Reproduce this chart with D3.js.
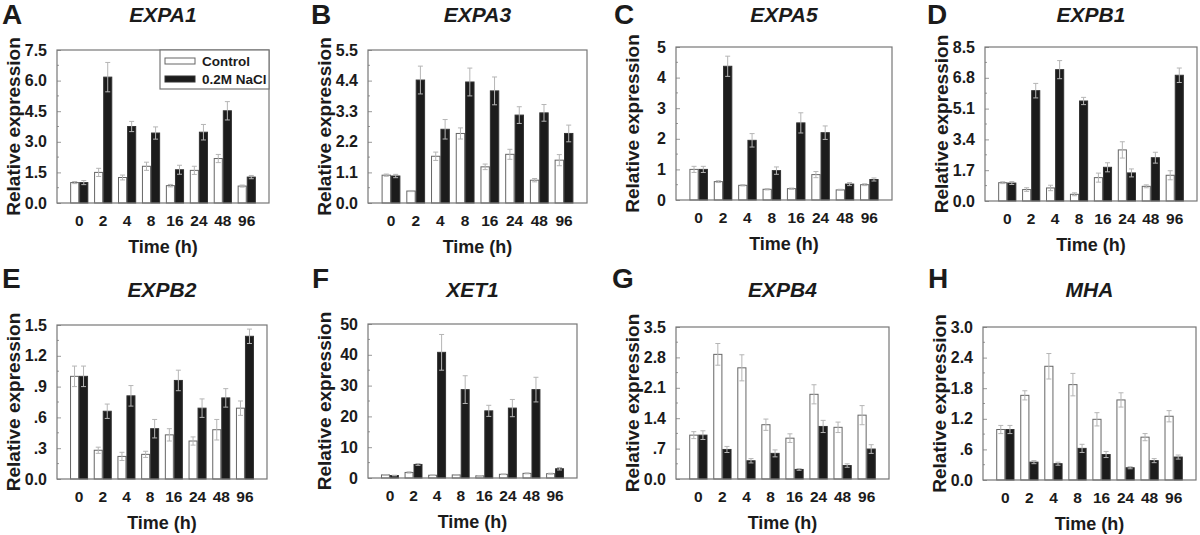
<!DOCTYPE html>
<html><head><meta charset="utf-8">
<script src="https://cdn.jsdelivr.net/npm/d3@7"></script>
<style>
body{margin:0;background:#fff;}
svg text{font-family:"Liberation Sans",Arial,sans-serif;font-weight:bold;fill:#1b1b1b;}
</style></head>
<body><svg id="c" width="1200" height="535"></svg>
<script>
const times = ["0","2","4","8","16","24","48","96"];
const seriesNames = ["Control","0.2M NaCl"];

const expa1Control = [1.0,1.5,1.25,1.8,0.85,1.6,2.18,0.83];
const expa1ControlErr = [0.05,0.2,0.12,0.2,0.06,0.2,0.2,0.05];
const expa1NaCl = [1.0,6.17,3.75,3.43,1.63,3.47,4.52,1.27];
const expa1NaClErr = [0.1,0.72,0.25,0.3,0.22,0.38,0.45,0.08];
const expa1Ticks = [0,1.5,3.0,4.5,6.0,7.5];
const expa1TickLabels = ["0.0","1.5","3.0","4.5","6.0","7.5"];

const expa3Control = [1.0,0.43,1.68,2.5,1.3,1.75,0.82,1.54];
const expa3ControlErr = [0.04,0.02,0.15,0.2,0.1,0.18,0.06,0.2];
const expa3NaCl = [0.97,4.42,2.65,4.35,4.03,3.16,3.24,2.5];
const expa3NaClErr = [0.06,0.5,0.35,0.5,0.5,0.3,0.3,0.3];
const expa3Ticks = [0,1.1,2.2,3.3,4.4,5.5];
const expa3TickLabels = ["0.0","1.1","2.2","3.3","4.4","5.5"];

const expa5Control = [1.0,0.6,0.48,0.35,0.37,0.83,0.33,0.5];
const expa5ControlErr = [0.1,0.03,0.02,0.02,0.02,0.1,0.02,0.03];
const expa5NaCl = [1.0,4.37,1.95,0.96,2.52,2.2,0.52,0.67];
const expa5NaClErr = [0.1,0.33,0.22,0.12,0.33,0.22,0.05,0.05];
const expa5Ticks = [0,1,2,3,4,5];
const expa5TickLabels = ["0","1","2","3","4","5"];

const expb1Control = [1.01,0.63,0.72,0.37,1.29,2.82,0.81,1.42];
const expb1ControlErr = [0.05,0.1,0.15,0.08,0.25,0.45,0.08,0.25];
const expb1NaCl = [0.99,6.09,7.25,5.52,1.86,1.55,2.39,6.94];
const expb1NaClErr = [0.08,0.4,0.5,0.2,0.25,0.22,0.3,0.4];
const expb1Ticks = [0,1.7,3.4,5.1,6.8,8.5];
const expb1TickLabels = ["0.0","1.7","3.4","5.1","6.8","8.5"];

const expb2Control = [1.0,0.28,0.22,0.24,0.43,0.37,0.48,0.69];
const expb2ControlErr = [0.1,0.03,0.04,0.03,0.06,0.04,0.1,0.07];
const expb2NaCl = [1.0,0.66,0.81,0.49,0.96,0.69,0.79,1.39];
const expb2NaClErr = [0.1,0.07,0.1,0.09,0.1,0.09,0.09,0.07];
const expb2Ticks = [0,0.3,0.6,0.9,1.2,1.5];
const expb2TickLabels = ["0.0",".3",".6",".9","1.2","1.5"];

const xet1Control = [1.0,1.8,0.9,1.0,0.7,1.2,1.5,1.4];
const xet1ControlErr = [0.1,0.2,0.1,0.1,0.1,0.1,0.15,0.15];
const xet1NaCl = [0.8,4.4,40.8,28.7,21.8,22.7,28.7,3.0];
const xet1NaClErr = [0.1,0.3,5.8,4.5,1.8,2.8,4.0,0.4];
const xet1Ticks = [0,10,20,30,40,50];
const xet1TickLabels = ["0","10","20","30","40","50"];

const expb4Control = [1.01,2.87,2.56,1.25,0.94,1.95,1.19,1.47];
const expb4ControlErr = [0.08,0.25,0.3,0.13,0.1,0.22,0.12,0.22];
const expb4NaCl = [1.01,0.68,0.42,0.59,0.22,1.21,0.31,0.69];
const expb4NaClErr = [0.1,0.07,0.05,0.08,0.02,0.14,0.04,0.1];
const expb4Ticks = [0,0.7,1.4,2.1,2.8,3.5];
const expb4TickLabels = ["0.0",".7","1.4","2.1","2.8","3.5"];

const mhaControl = [0.99,1.66,2.23,1.87,1.19,1.57,0.84,1.25];
const mhaControlErr = [0.08,0.09,0.25,0.22,0.13,0.14,0.07,0.11];
const mhaNaCl = [0.99,0.35,0.32,0.62,0.5,0.24,0.38,0.45];
const mhaNaClErr = [0.08,0.03,0.03,0.08,0.06,0.02,0.04,0.04];
const mhaTicks = [0,0.6,1.2,1.8,2.4,3.0];
const mhaTickLabels = ["0.0",".6","1.2","1.8","2.4","3.0"];

const panelLetters = ["A","B","C","D","E","F","G","H"];
const geneNames = ["EXPA1","EXPA3","EXPA5","EXPB1","EXPB2","XET1","EXPB4","MHA"];

const panelData = [
  [expa1Control,expa1ControlErr,expa1NaCl,expa1NaClErr,expa1Ticks,expa1TickLabels],
  [expa3Control,expa3ControlErr,expa3NaCl,expa3NaClErr,expa3Ticks,expa3TickLabels],
  [expa5Control,expa5ControlErr,expa5NaCl,expa5NaClErr,expa5Ticks,expa5TickLabels],
  [expb1Control,expb1ControlErr,expb1NaCl,expb1NaClErr,expb1Ticks,expb1TickLabels],
  [expb2Control,expb2ControlErr,expb2NaCl,expb2NaClErr,expb2Ticks,expb2TickLabels],
  [xet1Control,xet1ControlErr,xet1NaCl,xet1NaClErr,xet1Ticks,xet1TickLabels],
  [expb4Control,expb4ControlErr,expb4NaCl,expb4NaClErr,expb4Ticks,expb4TickLabels],
  [mhaControl,mhaControlErr,mhaNaCl,mhaNaClErr,mhaTicks,mhaTickLabels]
];

// layout: frame left/right/top/bottom, letter position, title baseline
const layout = [
  {l:57,r:269,t:50,b:203,lx:2,ly:24,ty:22},
  {l:368,r:587,t:50,b:203,lx:311,ly:24,ty:22},
  {l:676,r:892,t:47,b:200,lx:614,ly:24,ty:22},
  {l:985,r:1197,t:47,b:201,lx:927,ly:24,ty:22},
  {l:57,r:267,t:325,b:479,lx:2,ly:288,ty:297},
  {l:368,r:577,t:324,b:478,lx:312,ly:288,ty:297},
  {l:676,r:889,t:327,b:479,lx:612,ly:288,ty:297},
  {l:983,r:1196,t:327,b:480,lx:928,ly:288,ty:297}
];

const svg = d3.select("#c");

panelData.forEach((pd, i) => {
  const [ctrl, ctrlErr, nacl, naclErr, ticks, tickLabels] = pd;
  const L = layout[i];
  const g = svg.append("g");
  const ymax = ticks[ticks.length-1];
  const y = d3.scaleLinear().domain([0, ymax]).range([L.b, L.t]);
  const x = d3.scaleBand().domain(times).range([L.l, L.r]).paddingInner(0.24).paddingOuter(0.55);
  const xs = d3.scaleBand().domain([0,1]).range([0, x.bandwidth()]);

  // letter and title
  g.append("text").attr("x", L.lx).attr("y", L.ly).attr("font-size", 28).text(panelLetters[i]);
  g.append("text").attr("x", (L.l+L.r)/2).attr("y", L.ty).attr("text-anchor","middle")
    .attr("font-size", 21).attr("font-style","italic").text(geneNames[i]);

  // minor ticks (inward)
  const step = ticks[1]-ticks[0];
  const minor = [];
  for (let k=0;k<ticks.length-1;k++) minor.push(ticks[k]+step/2);
  g.append("g").selectAll("line").data(minor).join("line")
    .attr("x1", L.l).attr("x2", L.l+2).attr("y1", d=>y(d)).attr("y2", d=>y(d))
    .attr("stroke","#999").attr("stroke-width",1);

  // y axis
  const yAxis = d3.axisLeft(y).tickValues(ticks).tickFormat((d,k)=>tickLabels[k]).tickSizeInner(-4).tickSizeOuter(0).tickPadding(10);
  const ya = g.append("g").attr("transform",`translate(${L.l},0)`).call(yAxis);
  ya.select(".domain").remove();
  ya.selectAll("line").attr("stroke","#999");
  ya.selectAll("text").attr("font-size",16).attr("font-family",null).attr("fill","#1b1b1b");

  // x axis
  const xAxis = d3.axisBottom(x).tickSize(0).tickPadding(12);
  const xa = g.append("g").attr("transform",`translate(0,${L.b})`).call(xAxis);
  xa.select(".domain").remove();
  xa.selectAll("text").attr("font-size",15.5).attr("font-family",null).attr("fill","#1b1b1b");

  // axis titles
  g.append("text").attr("transform",`translate(${L.l-44},${(L.t+L.b)/2}) rotate(-90)`)
    .attr("text-anchor","middle").attr("dominant-baseline","central").attr("font-size",19).text("Relative expression");
  g.append("text").attr("x",(L.l+L.r)/2).attr("y",L.b+50).attr("text-anchor","middle")
    .attr("font-size",18).text("Time (h)");

  // bars
  const rows = times.map((t,k)=>({t, vals:[ctrl[k],nacl[k]], errs:[ctrlErr[k],naclErr[k]]}));
  const grp = g.append("g").selectAll("g").data(rows).join("g")
    .attr("transform", d=>`translate(${x(d.t)},0)`);
  grp.selectAll("rect").data(d=>d.vals.map((v,s)=>({v,s}))).join("rect")
    .attr("x", d=>xs(d.s)+0.5).attr("width", xs.bandwidth()-1)
    .attr("y", d=>y(d.v)).attr("height", d=>y(0)-y(d.v))
    .attr("fill", d=>d.s===0?"#fff":"#1c1c1c")
    .attr("stroke", d=>d.s===0?"#666":"#333").attr("stroke-width",1);
  // error bars
  const eb = grp.selectAll("g.eb").data(d=>d.vals.map((v,s)=>({v,s,e:d.errs[s]}))).join("g").attr("class","eb");
  eb.append("line").attr("x1",d=>xs(d.s)+xs.bandwidth()/2).attr("x2",d=>xs(d.s)+xs.bandwidth()/2)
    .attr("y1",d=>y(d.v-d.e)).attr("y2",d=>y(d.v+d.e)).attr("stroke","#b5b5b5").attr("stroke-width",1);
  eb.append("line").attr("x1",d=>xs(d.s)+xs.bandwidth()/2-2.5).attr("x2",d=>xs(d.s)+xs.bandwidth()/2+2.5)
    .attr("y1",d=>y(d.v+d.e)).attr("y2",d=>y(d.v+d.e)).attr("stroke","#b5b5b5").attr("stroke-width",1);
  eb.append("line").attr("x1",d=>xs(d.s)+xs.bandwidth()/2-2.5).attr("x2",d=>xs(d.s)+xs.bandwidth()/2+2.5)
    .attr("y1",d=>y(d.v-d.e)).attr("y2",d=>y(d.v-d.e)).attr("stroke","#b5b5b5").attr("stroke-width",1);

  // frame
  g.append("rect").attr("x",L.l).attr("y",L.t).attr("width",L.r-L.l).attr("height",L.b-L.t)
    .attr("fill","none").attr("stroke","#777").attr("stroke-width",1.2);

  // legend in panel A
  if (i===0) {
    const lg = g.append("g");
    lg.append("rect").attr("x",160).attr("y",L.t).attr("width",L.r-160).attr("height",39)
      .attr("fill","#fff").attr("stroke","#777").attr("stroke-width",1.2);
    seriesNames.forEach((nm,s)=>{
      lg.append("rect").attr("x",165).attr("y",L.t+8+s*18).attr("width",30).attr("height",6)
        .attr("fill", s===0?"#fff":"#1c1c1c").attr("stroke", s===0?"#666":"#333");
      lg.append("text").attr("x",202).attr("y",L.t+16+s*18).attr("font-size",13.5).text(nm);
    });
  }
});
</script></body></html>
